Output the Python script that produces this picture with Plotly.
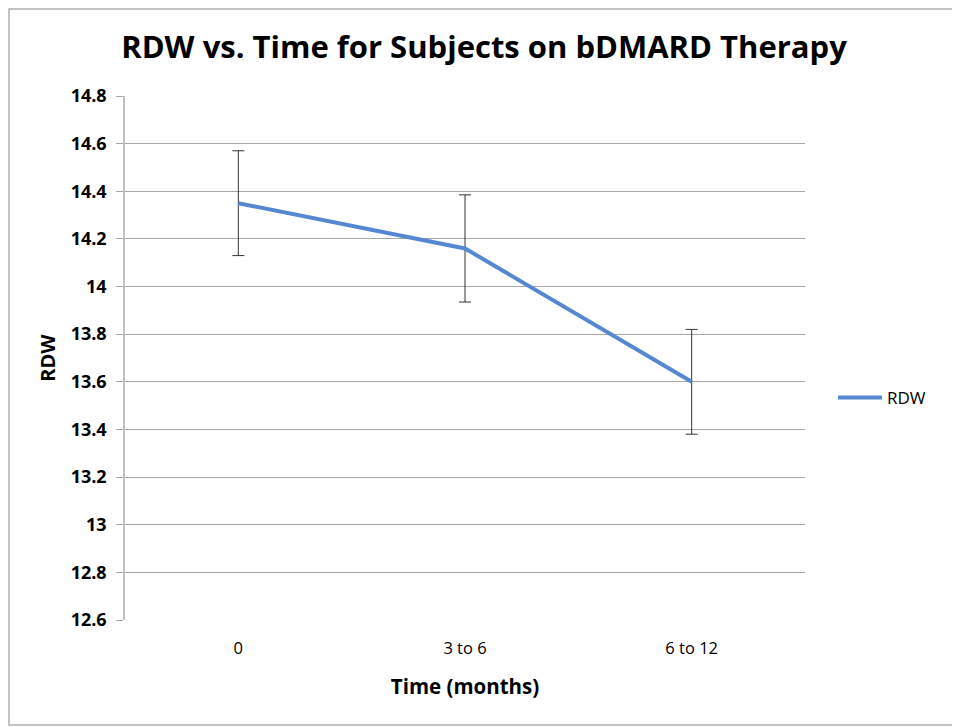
import plotly.graph_objects as go

categories = ["0", "3 to 6", "6 to 12"]
rdw_values = [14.35, 14.16, 13.60]
rdw_errors = [0.22, 0.225, 0.22]
y_ticks = [12.6, 12.8, 13.0, 13.2, 13.4, 13.6, 13.8, 14.0, 14.2, 14.4, 14.6, 14.8]
y_tick_labels = ["12.6", "12.8", "13", "13.2", "13.4", "13.6", "13.8", "14", "14.2", "14.4", "14.6", "14.8"]

# page body has an 8px margin; compensate
OFF = 8
W, H = 960 - OFF, 727 - OFF
L, T = 125 - OFF, 96 - OFF
pw, ph = 680, 524
R, B = W - L - pw, H - T - ph

def px_x(px):  # page pixel -> paper x
    return (px - OFF - L) / pw

def px_y(py):  # page pixel -> paper y
    return (T + ph - (py - OFF)) / ph

fig = go.Figure()
fig.add_trace(go.Scatter(
    x=categories, y=rdw_values, mode="lines", name="RDW",
    line=dict(color="#5587D2", width=4),
    error_y=dict(type="data", array=rdw_errors, visible=True,
                 color="#333333", thickness=1, width=6),
))

fig.update_layout(
    width=W, height=H,
    margin=dict(l=L, r=R, t=T, b=B),
    paper_bgcolor="white", plot_bgcolor="white",
    font=dict(family="Open Sans, Liberation Sans, sans-serif", color="black"),
    title=dict(text="<b>RDW vs. Time for Subjects on bDMARD Therapy</b>",
               x=0.5, xanchor="center", y=1 - (47 - OFF) / H, yanchor="middle",
               font=dict(size=31, color="black")),
    showlegend=True,
    legend=dict(x=px_x(833), y=px_y(398), xanchor="left", yanchor="middle",
                font=dict(size=17), bgcolor="rgba(0,0,0,0)", itemwidth=44),
    xaxis=dict(
        type="category", range=[-0.5, 2.5],
        showline=False, showgrid=False, ticks="",
        tickfont=dict(size=16.5), ticklabelstandoff=16,
        title=dict(text="<b>Time (months)</b>", font=dict(size=20.5), standoff=22),
    ),
    yaxis=dict(
        range=[12.6, 14.8], tickvals=y_ticks, ticktext=y_tick_labels,
        showgrid=True, gridcolor="#A6A6A6", gridwidth=1,
        showline=True, linecolor="#BFBFBF", linewidth=1.5,
        ticks="outside", ticklen=7, tickcolor="#A6A6A6",
        tickfont=dict(size=18, weight="bold"), ticklabelstandoff=6,
        title=dict(text="<b>RDW</b>", font=dict(size=20), standoff=10),
        zeroline=False,
    ),
)

# figure border
fig.add_shape(type="rect", xref="paper", yref="paper",
              x0=px_x(9), x1=px_x(958),
              y0=px_y(725), y1=px_y(9),
              line=dict(color="#B0B0B0", width=1.5), fillcolor="rgba(0,0,0,0)", layer="below")

fig.write_html("out.html")
